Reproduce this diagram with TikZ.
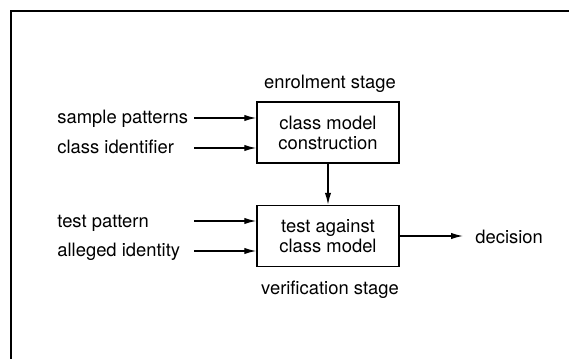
\documentclass[tikz,border=0pt]{standalone}
\usepackage{fontspec}
\setmainfont{TeX Gyre Heros}
\usetikzlibrary{arrows.meta}
\begin{document}
\begin{tikzpicture}[x=0.5pt,y=-0.5pt,
  every node/.style={font=\fontsize{9.2}{10}\selectfont, inner sep=0pt},
  blockbox/.style={draw, line width=0.75pt, minimum width=71pt, minimum height=30.5pt, align=center},
  arr/.style={line width=0.65pt, -{Latex[length=6pt,width=3.2pt]}},
  lbl/.style={anchor=base west}]
\useasboundingbox (0,0) rectangle (569,359);
% frame
\draw[line width=1pt] (10.5,359) -- (10.5,10.5) -- (569,10.5);
% boxes
\node[blockbox] (b1) at (328,132.5) {class model\\construction};
\node[blockbox] (b2) at (328,236) {test against\\class model};
% stage labels
\node[anchor=base] (enr) at (330,88) {enrolment stage};
\node[anchor=base] (ver) at (330,294) {verification stage};
% input labels
\node[lbl] (sp) at (57,123) {sample patterns};
\node[lbl] (ci) at (57,153) {class identifier};
\node[lbl] (tp) at (57,227) {test pattern};
\node[lbl] (ai) at (57,256) {alleged identity};
\node[lbl] (dec) at (475,243) {decision};
% arrow start coordinates
\coordinate (spS) at (194,118);
\coordinate (ciS) at (194,148);
\coordinate (tpS) at (194,221);
\coordinate (aiS) at (194,251);
\coordinate (decE) at (463,236);
% connectors
\draw[arr] (spS) -- (spS -| b1.west);
\draw[arr] (ciS) -- (ciS -| b1.west);
\draw[arr] (tpS) -- (tpS -| b2.west);
\draw[arr] (aiS) -- (aiS -| b2.west);
\draw[arr] (b1.south) -- (b2.north);
\draw[arr] (b2.east) -- (decE);
\end{tikzpicture}
\end{document}
